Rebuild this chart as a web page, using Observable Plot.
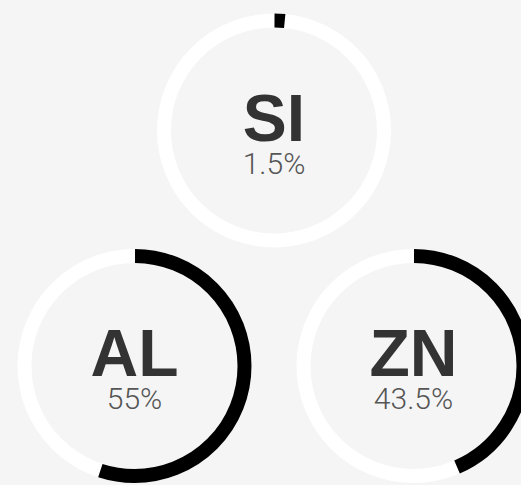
<!DOCTYPE html>
<html>
<head>
<meta charset="utf-8">
<script src="https://cdn.jsdelivr.net/npm/d3@7"></script>
<script src="https://cdn.jsdelivr.net/npm/@observablehq/plot@0.6"></script>
<style>
  html, body { margin: 0; padding: 0; background: #f5f5f5; overflow: hidden; }
  #chart svg { display: block; overflow: hidden; }
</style>
</head>
<body>
<div id="chart"></div>
<script>
// Data
const elements = ["SI", "AL", "ZN"];
const shares = [1.5, 55, 43.5];           // percent
const shareLabels = ["1.5%", "55%", "43.5%"];

// Layout grid (column, row) of each ring: one on top, two below
const gridCol = {SI: 1, AL: 0, ZN: 2};
const gridRow = {SI: 0, AL: 1, ZN: 1};

const data = elements.map((e, i) => ({
  element: e, share: shares[i], label: shareLabels[i],
  col: gridCol[e], row: gridRow[e]
}));

const R = 110;          // ring mid radius (px)
const SW = 14;          // ring thickness (px)
const C = 2 * Math.PI * R;

// Black arc: dash of length share·C starting at 12 o'clock, going clockwise
const arcMarks = data.map(d => {
  const len = (d.share / 100) * C;
  return Plot.dot([d], {
    x: "col", y: "row", r: R, fill: "none", stroke: "#000", strokeWidth: SW,
    strokeDasharray: `${len} ${C - len}`,
    strokeDashoffset: C / 4
  });
});

const plot = Plot.plot({
  width: 521, height: 485,
  margin: 0,
  style: {background: "#f5f5f5"},
  x: {domain: [0, 2], range: [134, 413], axis: null},
  y: {domain: [0, 1], range: [130, 365.5], axis: null},
  marks: [
    Plot.dot(data, {x: "col", y: "row", r: R, fill: "none", stroke: "#ffffff", strokeWidth: SW}),
    ...arcMarks,
    Plot.text(data, {x: "col", y: "row", text: "element", dy: 10, lineAnchor: "bottom",
      fontFamily: "Liberation Sans, Arial, sans-serif", fontWeight: 700, fontSize: 66,
      fill: "#333333", textAnchor: "middle"}),
    Plot.text(data, {x: "col", y: "row", text: "label", dy: 43, lineAnchor: "bottom",
      fontFamily: "Roboto, sans-serif", fontWeight: 300, fontSize: 30,
      fill: "#555555", textAnchor: "middle"})
  ]
});
document.getElementById("chart").appendChild(plot);
</script>
</body>
</html>
